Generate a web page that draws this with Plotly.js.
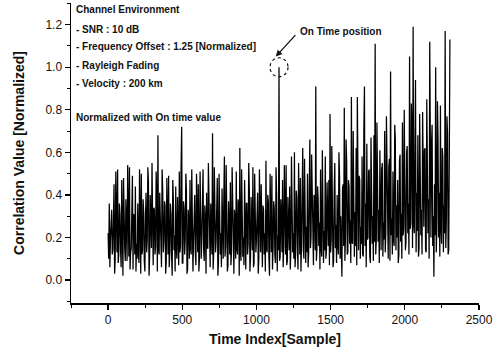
<!DOCTYPE html>
<html>
<head>
<meta charset="utf-8">
<script src="https://cdn.plot.ly/plotly-3.0.1.min.js"></script>
<style>html,body{margin:0;padding:0;background:#fff;}#chart{width:500px;height:350px;}</style>
</head>
<body>
<div id="chart"></div>
<script>
// Sample spacing of the hand-read correlation values
const sampleStep = 4;

// Correlation values (one per 4 samples, 0 .. 2304)
const correlationValues = [
  0.22,0.10,0.36,0.06,0.19,0.33,0.33,0.12,0.14,0.29,0.45,0.03,0.10,0.51,0.29,0.13,0.52,0.08,0.12,0.36,0.31,0.14,0.06,0.47,0.27,0.02,0.48,0.17,0.15,0.09,0.38,0.26,0.09,0.54,0.24,0.11,0.53,0.05,0.13,0.15,0.35,0.49,0.05,0.31,0.30,0.12,0.44,0.04,0.17,0.10,
  0.36,0.14,0.08,0.52,0.27,0.03,0.50,0.12,0.14,0.38,0.32,0.09,0.04,0.30,0.41,0.13,0.19,0.53,0.46,0.02,0.11,0.40,0.28,0.15,0.55,0.08,0.07,0.34,0.33,0.12,0.16,0.51,0.39,0.04,0.68,0.14,0.12,0.41,0.30,0.09,0.06,0.52,0.43,0.13,0.18,0.37,0.35,0.03,0.09,0.48,
  0.27,0.12,0.49,0.06,0.13,0.36,0.31,0.11,0.02,0.47,0.38,0.14,0.21,0.04,0.44,0.15,0.10,0.39,0.29,0.07,0.51,0.13,0.16,0.54,0.72,0.08,0.08,0.37,0.34,0.12,0.19,0.50,0.42,0.03,0.05,0.33,0.26,0.10,0.47,0.15,0.12,0.52,0.33,0.04,0.18,0.38,0.40,0.13,0.07,0.50,
  0.30,0.13,0.45,0.04,0.11,0.51,0.36,0.10,0.20,0.39,0.52,0.14,0.09,0.35,0.28,0.03,0.41,0.15,0.15,0.55,0.33,0.11,0.06,0.36,0.24,0.12,0.69,0.05,0.13,0.53,0.37,0.13,0.18,0.34,0.48,0.02,0.08,0.50,0.31,0.12,0.22,0.06,0.43,0.14,0.10,0.39,0.58,0.11,0.16,0.54,
  0.35,0.04,0.07,0.37,0.29,0.12,0.46,0.07,0.14,0.53,0.39,0.13,0.03,0.33,0.27,0.10,0.51,0.15,0.12,0.38,0.34,0.02,0.62,0.14,0.09,0.52,0.31,0.11,0.20,0.07,0.47,0.13,0.05,0.36,0.36,0.12,0.17,0.55,0.43,0.04,0.11,0.39,0.28,0.14,0.53,0.06,0.08,0.50,0.32,0.13,
  0.19,0.38,0.41,0.03,0.10,0.52,0.30,0.13,0.45,0.06,0.06,0.35,0.33,0.12,0.22,0.04,0.56,0.15,0.13,0.40,0.37,0.10,0.02,0.50,0.28,0.13,0.49,0.05,0.15,0.37,0.34,0.12,0.08,0.53,0.40,0.04,0.21,0.14,1.00,0.09,0.11,0.38,0.32,0.13,0.47,0.06,0.16,0.54,0.38,0.12,
  0.54,0.07,0.09,0.39,0.31,0.14,0.44,0.05,0.14,0.58,0.36,0.13,0.22,0.10,0.60,0.06,0.12,0.42,0.39,0.15,0.05,0.55,0.33,0.12,0.48,0.04,0.18,0.41,0.62,0.14,0.10,0.57,0.35,0.08,0.25,0.13,0.50,0.06,0.13,0.44,0.66,0.15,0.20,0.59,0.42,0.07,0.07,0.40,0.37,0.14,
  0.91,0.09,0.15,0.44,0.38,0.16,0.27,0.05,0.52,0.15,0.11,0.61,0.41,0.08,0.23,0.14,0.58,0.10,0.14,0.46,0.35,0.16,0.47,0.07,0.78,0.13,0.19,0.63,0.43,0.06,0.09,0.42,0.55,0.15,0.26,0.08,0.40,0.17,0.12,0.60,0.49,0.10,0.30,0.14,0.015,0.43,0.45,0.16,0.81,0.09,
  0.21,0.66,0.56,0.12,0.13,0.47,0.44,0.17,0.28,0.08,0.86,0.18,0.17,0.70,0.50,0.11,0.32,0.16,0.62,0.07,0.86,0.18,0.14,0.49,0.47,0.10,0.25,0.17,0.58,0.12,0.11,0.72,0.91,0.16,0.36,0.06,0.64,0.19,0.20,0.51,0.52,0.11,0.08,0.67,0.45,0.17,0.30,0.09,0.68,0.18,
  1.11,0.12,0.19,0.74,0.48,0.18,0.33,0.08,0.61,0.20,0.14,0.52,0.55,0.11,0.27,0.19,0.70,0.13,0.22,0.77,0.43,0.17,0.10,0.53,0.57,0.09,0.98,0.21,0.29,0.12,0.51,0.19,0.16,0.73,0.66,0.14,0.35,0.20,0.47,0.08,0.12,0.56,0.59,0.18,0.31,0.10,0.74,0.21,0.24,0.80,
  0.52,0.14,0.18,0.60,0.63,0.22,0.36,0.12,1.05,0.24,0.27,0.83,0.71,0.15,1.19,0.26,0.22,0.62,0.94,0.13,0.41,0.23,0.68,0.11,0.15,0.78,0.57,0.21,0.33,0.12,0.79,0.25,0.25,0.61,0.62,0.14,0.13,0.85,0.55,0.22,0.38,0.10,1.12,0.24,0.20,0.64,0.73,0.16,0.30,0.015,
  0.45,0.21,1.00,0.13,0.24,0.84,0.66,0.20,0.41,0.11,0.82,0.25,0.17,0.62,0.58,0.13,0.35,0.22,1.17,0.15,0.28,0.77,0.69,0.12,0.14,0.60,1.13
];
const sampleIndex = correlationValues.map((_, i) => i * sampleStep);

// On-time peak
const onTimeSample = [1152];
const onTimeValue = [1.0];

// Tick labels
const xTickVals = [0, 500, 1000, 1500, 2000, 2500];
const xTickText = ['0', '500', '1000', '1500', '2000', '2500'];
const yTickVals = [0.0, 0.2, 0.4, 0.6, 0.8, 1.0, 1.2];
const yTickText = ['0.0', '0.2', '0.4', '0.6', '0.8', '1.0', '1.2'];

// Text notes
const envLines = ['Channel Environment', '- SNR : 10 dB', '- Frequency Offset : 1.25 [Normalized]', '- Rayleigh Fading', '- Velocity : 200 km'];
const envNote = 'Normalized with On time value';
const peakNote = 'On Time position';

const F = 'Arial, "Liberation Sans", sans-serif';

const trace = {
  x: sampleIndex, y: correlationValues, type: 'scatter', mode: 'lines',
  line: {color: '#000', width: 1.25}, hoverinfo: 'skip', showlegend: false
};

const envY = [10, 29, 47, 65, 83];
const annotations = envLines.map((t, i) => ({
  text: '<b>' + t + '</b>', xref: 'paper', yref: 'paper',
  x: (74 - 71) / 408, y: (303 - envY[i]) / 300, xanchor: 'left', yanchor: 'middle',
  showarrow: false, font: {family: F, size: 10, color: '#111'}
}));
annotations.push({
  text: '<b>' + envNote + '</b>', xref: 'paper', yref: 'paper',
  x: (74 - 71) / 408, y: (303 - 117) / 300, xanchor: 'left', yanchor: 'middle',
  showarrow: false, font: {family: F, size: 10, color: '#111'}
});
annotations.push({
  text: '<b>' + peakNote + '</b>', xref: 'paper', yref: 'paper',
  x: (298 - 71) / 408, y: (303 - 31) / 300, xanchor: 'left', yanchor: 'middle',
  showarrow: false, font: {family: F, size: 10, color: '#111'}
});
annotations.push({
  text: '', x: onTimeSample[0] - 22, y: onTimeValue[0] + 0.05, xref: 'x', yref: 'y',
  showarrow: true, arrowhead: 2, arrowsize: 1, arrowwidth: 1.3, arrowcolor: '#111',
  ax: 21, ay: -23, standoff: 0
});

const layout = {
  width: 500, height: 350,
  margin: {l: 71, r: 21, t: 3, b: 47},
  paper_bgcolor: '#fff', plot_bgcolor: '#fff',
  font: {family: F, color: '#111'},
  xaxis: {
    range: [-250, 2500], showgrid: false, zeroline: false,
    showline: true, linecolor: '#000', linewidth: 1.5,
    ticks: 'outside', ticklen: 5, tickwidth: 1.2, tickcolor: '#000',
    tickvals: xTickVals, ticktext: xTickText,
    tickfont: {family: F, size: 12, color: '#111'},
    minor: {dtick: 250, ticks: 'outside', ticklen: 3, tickcolor: '#000', tickwidth: 1},
    title: {text: '<b>Time Index[Sample]</b>', font: {family: F, size: 14, color: '#111'}, standoff: 8}
  },
  yaxis: {
    range: [-0.108, 1.302], showgrid: false, zeroline: false,
    showline: true, linecolor: '#000', linewidth: 1.5,
    ticks: 'outside', ticklen: 5, tickwidth: 1.2, tickcolor: '#000',
    tickvals: yTickVals, ticktext: yTickText,
    tickfont: {family: F, size: 12, color: '#111'},
    minor: {dtick: 0.1, ticks: 'outside', ticklen: 3, tickcolor: '#000', tickwidth: 1},
    title: {text: '<b>Correlation Value [Normalized]</b>', font: {family: F, size: 14, color: '#111'}, standoff: 17}
  },
  shapes: [{
    type: 'circle', xref: 'x', yref: 'y', xsizemode: 'pixel', ysizemode: 'pixel',
    xanchor: onTimeSample[0], yanchor: onTimeValue[0],
    x0: -9, x1: 9, y0: -9.5, y1: 9.5,
    line: {color: '#111', width: 1.2, dash: 'dot'}
  }],
  annotations: annotations
};

Plotly.newPlot('chart', [trace], layout, {displayModeBar: false, staticPlot: true});
</script>
</body>
</html>
